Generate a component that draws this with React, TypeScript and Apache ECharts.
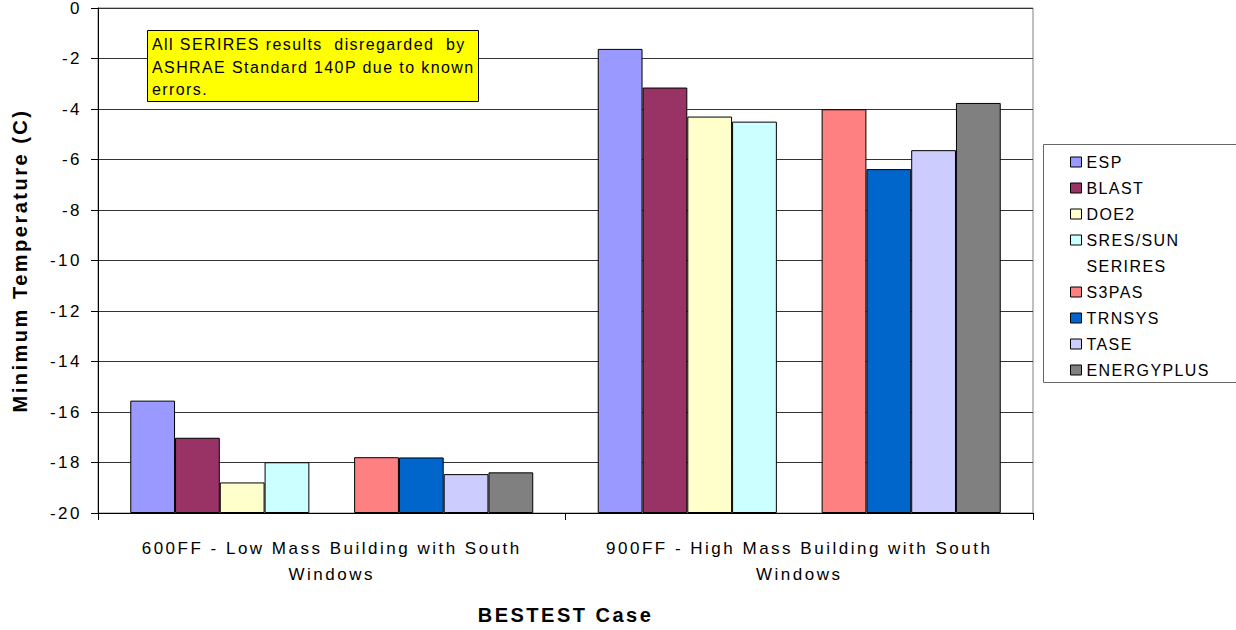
import React, { useEffect, useRef } from "react";
import * as echarts from "echarts";

const categories = [
  "600FF - Low Mass Building with South\nWindows",
  "900FF - High Mass Building with South\nWindows",
];

const seriesNames = [
  "ESP",
  "BLAST",
  "DOE2",
  "SRES/SUN",
  "SERIRES",
  "S3PAS",
  "TRNSYS",
  "TASE",
  "ENERGYPLUS",
];

const seriesColors = [
  "#9999FF",
  "#993366",
  "#FFFFCC",
  "#CCFFFF",
  "rgba(0,0,0,0)",
  "#FF8080",
  "#0066CC",
  "#CCCCFF",
  "#808080",
];

const espValues = [-15.55, -1.62];
const blastValues = [-17.02, -3.15];
const doe2Values = [-18.79, -4.3];
const sresSunValues = [-17.99, -4.5];
const seriresValues: (number | null)[] = [null, null];
const s3pasValues = [-17.79, -4.01];
const trnsysValues = [-17.8, -6.38];
const taseValues = [-18.46, -5.63];
const energyPlusValues = [-18.39, -3.76];

const seriesValues = [
  espValues,
  blastValues,
  doe2Values,
  sresSunValues,
  seriresValues,
  s3pasValues,
  trnsysValues,
  taseValues,
  energyPlusValues,
];

const yMin = -20;
const yMax = 0;
const yInterval = 2;

const noteText =
  "All SERIRES results  disregarded  by\nASHRAE Standard 140P due to known\nerrors.";

const FONT = "'Liberation Sans', Arial, Helvetica, sans-serif";

const css = `
#chart-root text { white-space: pre; }
#chart-root text[style*="17px"] { letter-spacing: 2.5px; }
#chart-root text[style*="20px"] { letter-spacing: 2.5px; }
#chart-root text[style*="16px"] { letter-spacing: 1.4px; }
`;

export default function App() {
  const ref = useRef<HTMLDivElement>(null);

  useEffect(() => {
    if (!ref.current) return;
    const chart = echarts.init(ref.current, null, { renderer: "svg" });

    const series = seriesNames.map((name, i) => {
      const hidden = name === "SERIRES";
      return {
        name,
        type: "bar",
        data: seriesValues[i],
        barGap: "0%",
        barCategoryGap: "13.8%",
        itemStyle: {
          color: seriesColors[i],
          borderColor: hidden ? "rgba(0,0,0,0)" : "#000000",
          borderWidth: hidden ? 0 : 1,
        },
        emphasis: { disabled: true },
      };
    });

    chart.setOption({
      animation: false,
      backgroundColor: "#ffffff",
      textStyle: { fontFamily: FONT },
      grid: {
        left: 98,
        right: 203,
        top: 8,
        bottom: 117,
        show: true,
        borderColor: "#808080",
        borderWidth: 1,
        backgroundColor: "transparent",
        containLabel: false,
        outerBoundsMode: "none",
      },
      xAxis: {
        type: "category",
        data: categories,
        axisLine: { show: true, onZero: false, lineStyle: { color: "#000", width: 1 } },
        axisTick: { show: true, length: 7, lineStyle: { color: "#000" } },
        axisLabel: {
          show: true,
          interval: 0,
          fontSize: 17,
          color: "#000",
          fontFamily: FONT,
          margin: 22,
          lineHeight: 26,
        },
        splitLine: { show: false },
        name: "BESTEST Case",
        nameLocation: "middle",
        nameGap: 92,
        nameTextStyle: { fontSize: 20, fontWeight: "bold", color: "#000", fontFamily: FONT },
      },
      yAxis: {
        type: "value",
        min: yMin,
        max: yMax,
        interval: yInterval,
        startValue: yMin,
        axisLine: { show: true, lineStyle: { color: "#000", width: 1 } },
        axisTick: { show: true, length: 7, lineStyle: { color: "#000" } },
        axisLabel: { fontSize: 17, color: "#000", fontFamily: FONT, margin: 16 },
        splitLine: { show: true, lineStyle: { color: "#333", width: 1 } },
        name: "Minimum Temperature (C)",
        nameLocation: "middle",
        nameGap: 68,
        nameTextStyle: { fontSize: 20, fontWeight: "bold", color: "#000", fontFamily: FONT },
      },
      legend: {
        show: true,
        orient: "vertical",
        left: 1070,
        top: 154,
        padding: 0,
        itemWidth: 11,
        itemHeight: 10,
        itemGap: 10,
        icon: "rect",
        selectedMode: false,
        itemStyle: { borderWidth: 1 },
        textStyle: { fontSize: 16, color: "#000", fontFamily: FONT, lineHeight: 16 },
        data: seriesNames,
      },
      graphic: [
        {
          type: "rect",
          z: 0,
          silent: true,
          shape: { x: 1043.5, y: 144.5, width: 200, height: 238 },
          style: { fill: "#ffffff", stroke: "#666666", lineWidth: 1 },
        },
        {
          type: "rect",
          z: 100,
          silent: true,
          shape: { x: 147.5, y: 30.5, width: 331, height: 71 },
          style: { fill: "#FFFF00", stroke: "#000000", lineWidth: 1 },
        },
        {
          type: "text",
          z: 101,
          silent: true,
          x: 152,
          y: 33,
          style: {
            text: noteText,
            fontSize: 16,
            lineHeight: 22.7,
            fill: "#000",
            fontFamily: FONT,
            verticalAlign: "top",
            align: "left",
          },
        },
      ],
      series,
    });

    return () => chart.dispose();
  }, []);

  return (
    <>
      <style>{css}</style>
      <div
        id="chart-root"
        ref={ref}
        style={{ position: "absolute", left: 0, top: 0, width: 1236, height: 630 }}
      />
    </>
  );
}
